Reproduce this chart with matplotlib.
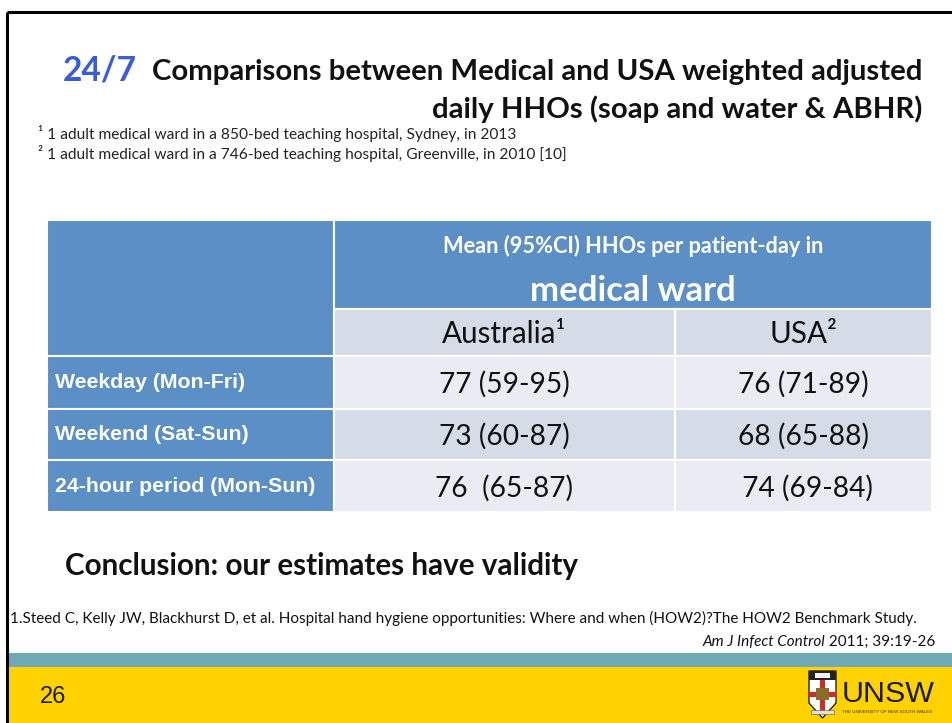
import matplotlib
matplotlib.use("Agg")
import matplotlib.pyplot as plt
from matplotlib.patches import Rectangle, Polygon

# ---------------- data ----------------
row_labels = ["Weekday (Mon-Fri)", "Weekend (Sat-Sun)", "24-hour period (Mon-Sun)"]
col_labels = ["Australia\u00b9", "USA\u00b2"]
aus_values = ["77 (59-95)", "73 (60-87)", "76  (65-87)"]
usa_values = ["76 (71-89)", "68 (65-88)", " 74 (69-84)"]
header_line1 = "Mean (95%CI) HHOs per patient-day in"
header_line2 = "medical ward"
title_hl = "24/7"
title_line1 = "Comparisons between Medical and USA weighted adjusted"
title_line2 = "daily HHOs (soap and water & ABHR)"
footnotes = ["\u00b9 1 adult medical ward in a 850-bed teaching hospital, Sydney, in 2013",
             "\u00b2 1 adult medical ward in a 746-bed teaching hospital, Greenville, in 2010 [10]"]
conclusion = "Conclusion: our estimates have validity"
ref_line1 = ("1.Steed C, Kelly JW, Blackhurst D, et al. Hospital hand hygiene opportunities: "
             "Where and when (HOW2)?The HOW2 Benchmark Study.")
ref_journal = "Am J Infect Control"
ref_tail = " 2011; 39:19-26"
slide_no = "26"

# ---------------- figure ----------------
W, H = 953, 723
fig = plt.figure(figsize=(W / 100, H / 100), dpi=100)
ax = fig.add_axes([0, 0, 1, 1])
ax.set_xlim(0, W)
ax.set_ylim(H, 0)
ax.axis("off")
fig.canvas.draw()
renderer = fig.canvas.get_renderer()

SANS = ["Lato", "DejaVu Sans"]
ARIAL = ["Liberation Sans", "DejaVu Sans"]


def width_of(t):
    return t.get_window_extent(renderer).width


def fit(x, y, s, width, size0=12, **kw):
    t = ax.text(x, y, s, fontsize=size0, **kw)
    t.set_fontsize(size0 * width / width_of(t))
    return t


# border lines
ax.plot([7, W], [12, 12], color="black", lw=2.2, solid_capstyle="butt")

# title
t1 = fit(922, 80, title_line1, 774, size0=20, ha="right", va="baseline",
         family=SANS, fontweight="bold", color="#111111")
fs_title = t1.get_fontsize()
ax.text(922, 118, title_line2, fontsize=fs_title, ha="right", va="baseline",
        family=SANS, fontweight="bold", color="#111111")
fit(63, 80, title_hl, 74, size0=20, ha="left", va="baseline",
    family=SANS, fontweight="bold", color="#3A5CDB")

# footnotes
f1 = fit(38, 133, footnotes[0], 481, size0=8, ha="left", va="center",
         family=SANS, color="#222222")
ax.text(38, 153, footnotes[1], fontsize=f1.get_fontsize(), ha="left", va="center",
        family=SANS, color="#222222")

# ---------------- table ----------------
BLUE = "#5B8FC6"
LIGHT1 = "#D5DCE8"
LIGHT2 = "#E9ECF3"
x0, x1, x2, x3 = 47, 334, 675, 932
y_top, y_head, y_sub = 220, 309, 356
row_edges = [356, 409, 460, 512]

ax.add_patch(Rectangle((x0, y_top), x1 - x0, y_sub - y_top, facecolor=BLUE, edgecolor="white", lw=1.5))
ax.add_patch(Rectangle((x1, y_top), x3 - x1, y_head - y_top, facecolor=BLUE, edgecolor="white", lw=1.5))
for xa, xb in [(x1, x2), (x2, x3)]:
    ax.add_patch(Rectangle((xa, y_head), xb - xa, y_sub - y_head, facecolor=LIGHT1,
                           edgecolor="white", lw=1.5))
row_fill = [LIGHT2, LIGHT1, LIGHT2]
for i in range(len(row_labels)):
    ya, yb = row_edges[i], row_edges[i + 1]
    ax.add_patch(Rectangle((x0, ya), x1 - x0, yb - ya, facecolor=BLUE, edgecolor="white", lw=1.5))
    for xa, xb in [(x1, x2), (x2, x3)]:
        ax.add_patch(Rectangle((xa, ya), xb - xa, yb - ya, facecolor=row_fill[i],
                               edgecolor="white", lw=1.5))

# header texts
xc_head = (x1 + x3) / 2
fit(xc_head, 246, header_line1, 382, size0=14, ha="center", va="center",
    family=SANS, fontweight="bold", color="white")
fit(xc_head, 291, header_line2, 206, size0=20, ha="center", va="center",
    family=SANS, fontweight="bold", color="white")
col_centers = [(x1 + x2) / 2, (x2 + x3) / 2]
c0 = fit(col_centers[0], 334, col_labels[0], 125, size0=16, ha="center", va="center",
         family=SANS, color="#111111")
ax.text(col_centers[1], 334, col_labels[1], fontsize=c0.get_fontsize(), ha="center", va="center",
        family=SANS, color="#111111")

# row labels and values
rl = fit(55, 0, row_labels[2], 259, size0=12, ha="left", va="center",
         family=ARIAL, fontweight="bold", color="white")
fs_rl = rl.get_fontsize()
rl.remove()
tv = fit(0, 0, aus_values[0], 131, size0=16, ha="center", va="center", family=SANS)
vfs = tv.get_fontsize()
tv.remove()
for i, lab in enumerate(row_labels):
    yc = (row_edges[i] + row_edges[i + 1]) / 2
    ax.text(55, yc, lab, fontsize=fs_rl, ha="left", va="center",
            family=ARIAL, fontweight="bold", color="white")
    ax.text(col_centers[0], yc + 2, aus_values[i], fontsize=vfs, ha="center", va="center",
            family=SANS, color="#111111")
    ax.text(col_centers[1], yc + 2, usa_values[i], fontsize=vfs, ha="center", va="center",
            family=SANS, color="#111111")

# conclusion
fit(65, 566, conclusion, 515, size0=17, ha="left", va="center",
    family=SANS, fontweight="bold", color="#111111")

# reference
r1 = fit(10, 618, ref_line1, 908, size0=8, ha="left", va="center",
         family=SANS, color="#111111")
fs_ref = r1.get_fontsize()
rt = ax.text(935, 642, ref_tail, fontsize=fs_ref, ha="right", va="center",
             family=SANS, color="#111111")
wt = width_of(rt)
ax.text(935 - wt, 642, ref_journal, fontsize=fs_ref, ha="right", va="center",
        family=SANS, style="italic", color="#111111")

# bottom bars
ax.add_patch(Rectangle((8, 653), W - 8, 14, facecolor="#6FA9B5", edgecolor="none"))
ax.add_patch(Rectangle((8, 667), W - 8, H - 667, facecolor="#FFD200", edgecolor="none"))
ax.plot([7, 7], [12, H], color="black", lw=2.2, solid_capstyle="butt")

ax.text(40, 697, slide_no, fontsize=17, ha="left", va="center", family=ARIAL, color="#1a1a1a")

# UNSW logo (simplified)
shield = Polygon([(809, 671), (836, 671), (836, 703), (822.5, 718), (809, 703)],
                 closed=True, facecolor="white", edgecolor="#222222", lw=1.0)
ax.add_patch(shield)
ax.add_patch(Rectangle((809, 671), 27, 9, facecolor="#222222", edgecolor="none"))
ax.add_patch(Rectangle((815, 673), 15, 5, facecolor="#f2f2f2", edgecolor="none"))
ax.add_patch(Rectangle((820, 680), 5, 32, facecolor="#D52B1E", edgecolor="none"))
ax.add_patch(Rectangle((809, 692), 27, 5, facecolor="#D52B1E", edgecolor="none"))
ax.add_patch(Rectangle((816, 688), 13, 12, facecolor="#8a6d2a", edgecolor="none"))
ax.add_patch(Rectangle((811, 710), 23, 4, facecolor="#e8e0c8", edgecolor="#555555", lw=0.4))
fit(842, 694, "UNSW", 93, size0=24, ha="left", va="center", family=ARIAL, color="#1a1a1a")
fit(842, 712, "THE UNIVERSITY OF NEW SOUTH WALES", 90, size0=3, ha="left", va="center",
    family=ARIAL, color="#333333")

fig.savefig("out.png", dpi=100, facecolor="white")
